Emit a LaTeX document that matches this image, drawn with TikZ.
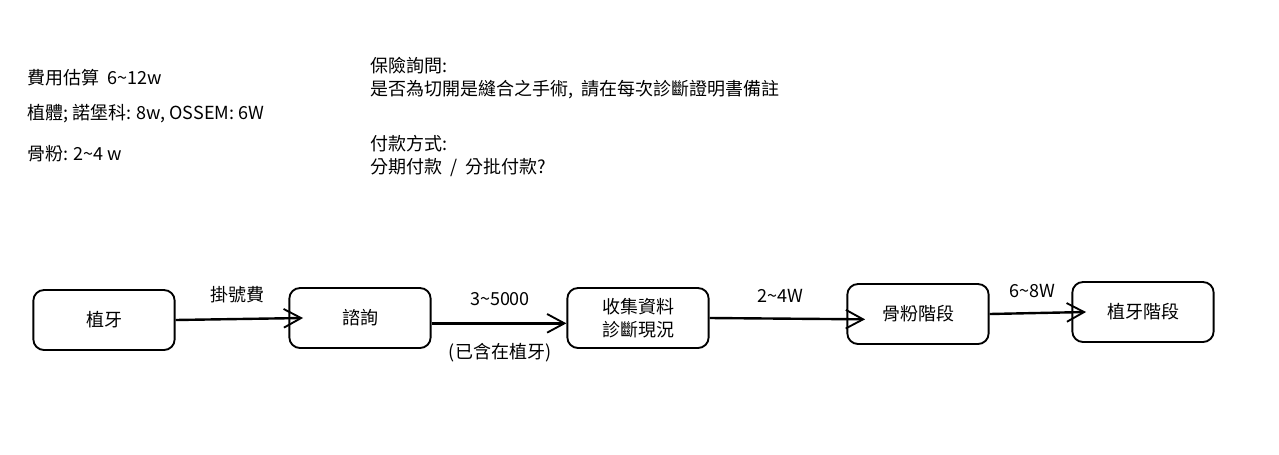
\documentclass[tikz,border=0pt]{standalone}
\usepackage{fontspec}
\setmainfont{Noto Sans CJK TC}
\usetikzlibrary{arrows.meta}

\begin{document}
\begin{tikzpicture}[x=0.75pt, y=-0.75pt, thick]
        % Define a style for the nodes
        \tikzstyle{stagebox} = [rectangle, draw, line width=1.4pt, rounded corners=8pt, minimum width=106pt, minimum height=45pt, inner sep=0pt, align=center, font=\fontsize{13.5}{17}\selectfont]
        \tikzstyle{arrow} = [-{Straight Barb[length=13pt, width=14pt, line width=1.4pt]}, line width=1.8pt]
        \tikzstyle{note} = [inner sep=0pt, align=left, font=\fontsize{13.5}{17.25}\selectfont]
        \tikzstyle{lbl} = [inner sep=0pt, font=\fontsize{13.5}{16}\selectfont]

        \useasboundingbox (0,0) rectangle (1279,454);

        % Notes
        \node (cost) [note, anchor=west] at (27,78) {費用估算\ \ 6\textasciitilde12w};
        \node (implant) [note, anchor=west] at (27,114) {植體; 諾堡科: 8w, OSSEM: 6W};
        \node (bone) [note, anchor=west] at (27,154) {骨粉: 2\textasciitilde4 w};
        \node (insure) [note, anchor=north west] at (370,57) {保險詢問:\\是否為切開是縫合之手術,\ \ 請在每次診斷證明書備註};
        \node (pay) [note, anchor=north west] at (370,135) {付款方式:\\分期付款\ \ /\ \ 分批付款?};

        % Nodes
        \node (start) [stagebox] at (104,320) {植牙};
        \node (consult) [stagebox] at (360,318) {諮詢};
        \node (collect) [stagebox] at (638,318) {收集資料\\診斷現況};
        \node (bonestage) [stagebox] at (918,314) {骨粉階段};
        \node (implstage) [stagebox] at (1143,312) {植牙階段};

        % Edges
        \draw [arrow] (start.east) -- ([xshift=11pt]consult.west);
        \draw [arrow] ([yshift=-4pt]consult.east) -- ([yshift=-4pt]collect.west);
        \draw [arrow] (collect.east) -- ([xshift=14pt, yshift=-4pt]bonestage.west);
        \draw [arrow] (bonestage.east) -- ([xshift=11pt]implstage.west);

        % Labels
        \node (fee) [lbl] at (237,295) {掛號費};
        \node (price) [lbl] at (500,299) {3\textasciitilde5000};
        \node (incl) [lbl] at (500,353) {(已含在植牙)};
        \node (bonefee) [lbl] at (780,296) {2\textasciitilde4W};
        \node (implfee) [lbl] at (1032,291) {6\textasciitilde8W};
\end{tikzpicture}
\end{document}
